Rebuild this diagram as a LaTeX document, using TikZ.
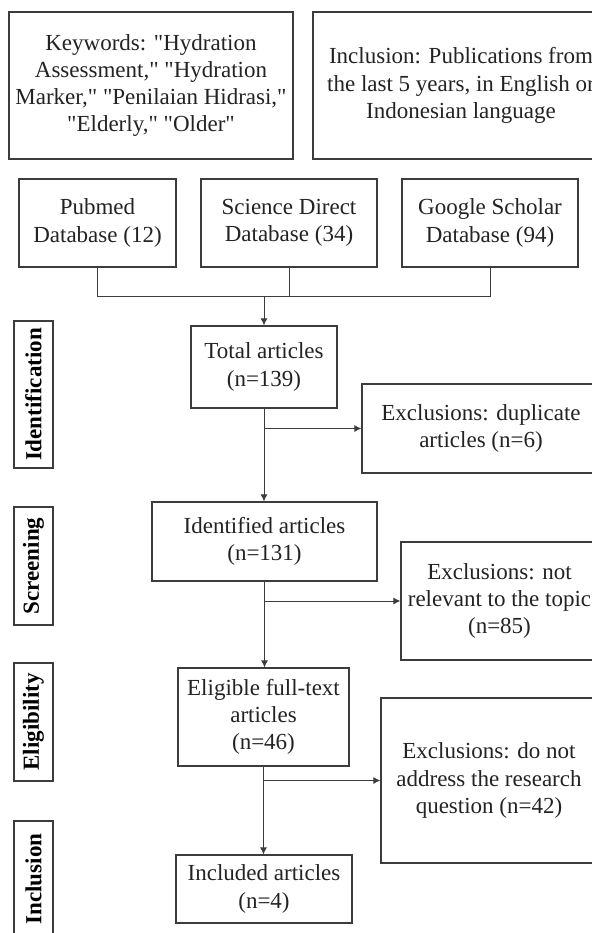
\documentclass[tikz,border=0pt]{standalone}
\usepackage{fontspec}
\setmainfont{Liberation Serif}
\usepackage{tikz}
\usetikzlibrary{positioning,arrows.meta}
\definecolor{boxline}{RGB}{60,60,60}
\definecolor{boxtext}{RGB}{35,35,35}
\newcommand{\qt}{\textquotedbl}

\begin{document}
\begin{tikzpicture}[x=0.5pt,y=-0.5pt,
  box/.style={draw=boxline, line width=0.6pt, align=center, inner sep=1.5pt,
    text=boxtext, font=\fontsize{11.5}{13.6}\selectfont},
  stage/.style={draw=boxline, line width=0.6pt, rotate=90, inner sep=1pt,
    minimum height=19.5pt, font=\bfseries\fontsize{11.5}{13.6}\selectfont},
  arr/.style={line width=0.5pt, -{Latex[length=3.5pt,width=3.5pt]}},
  link/.style={draw=boxline, line width=0.5pt}
]
\clip (0,0) rectangle (592,933);
\fill[white] (0,0) rectangle (592,933);

% search terms and criteria
\node[box, minimum width=142pt, minimum height=73.5pt] (keyw) at (151,85.5)
  {Keywords: \qt Hydration\\Assessment,\qt{} \qt Hydration\\Marker,\qt{} \qt Penilaian Hidrasi,\qt\\\qt Elderly,\qt{} \qt Older\qt};
\node[box, minimum width=148pt, minimum height=73.5pt] (crit) at (461,85.5)
  {Inclusion: Publications from\\the last 5 years, in English or\\Indonesian language};

% databases
\node[box, minimum width=78.5pt, minimum height=44pt] (pubmed) at (97.5,223) {Pubmed\\Database (12)};
\node[box, minimum width=88pt, minimum height=44pt] (scidir) at (289,223) {Science Direct\\Database (34)};
\node[box, minimum width=88pt, minimum height=44pt] (gscholar) at (490,223) {Google Scholar\\Database (94)};

% main flow
\node[box, minimum width=73pt, minimum height=41pt] (total) at (264,367) {Total articles\\(n=139)};
\node[box, minimum width=112.5pt, minimum height=39.5pt] (ident) at (264.5,541.5) {Identified articles\\(n=131)};
\node[box, minimum width=85.5pt, minimum height=49pt] (elig) at (263.5,717) {Eligible full-text\\articles\\(n=46)};
\node[box, minimum width=88pt, minimum height=34pt] (incl) at (264,889) {Included articles\\(n=4)};

% exclusions
\node[box, minimum width=119pt, minimum height=44.5pt] (exdup) at (481,428.5) {Exclusions: duplicate\\articles (n=6)};
\node[box, minimum width=98.5pt, minimum height=59pt] (exrel) at (499.5,601) {Exclusions: not\\relevant to the topic\\(n=85)};
\node[box, minimum width=108pt, minimum height=82.5pt] (exaddr) at (489,780.5) {Exclusions: do not\\address the research\\question (n=42)};

% stage labels
\foreach \name/\txt/\yc/\len in {
    sident/Identification/394.5/73.5,
    sscreen/Screening/566/59,
    selig/Eligibility/722/59,
    sincl/Inclusion/879/58
}{
    \node[stage, minimum width=\len pt] (\name) at (33.5,\yc) {\txt};
}

% connectors
\coordinate (mj) at (264,296);
\draw[link] (pubmed.south) |- (gscholar.south |- mj) -- (gscholar.south);
\draw[link] (scidir.south) -- (scidir.south |- mj);
\draw[link, arr] (mj) -- (total.north);
\draw[link, arr] (total.south) -- (total.south |- ident.north);
\draw[link, arr] (total.south |- exdup.west) -- (exdup.west);
\draw[link, arr] (ident.south) -- (ident.south |- elig.north);
\draw[link, arr] (ident.south |- exrel.west) -- (exrel.west);
\draw[link, arr] (elig.south) -- (elig.south |- incl.north);
\draw[link, arr] (elig.south |- exaddr.west) -- (exaddr.west);
\end{tikzpicture}
\end{document}
